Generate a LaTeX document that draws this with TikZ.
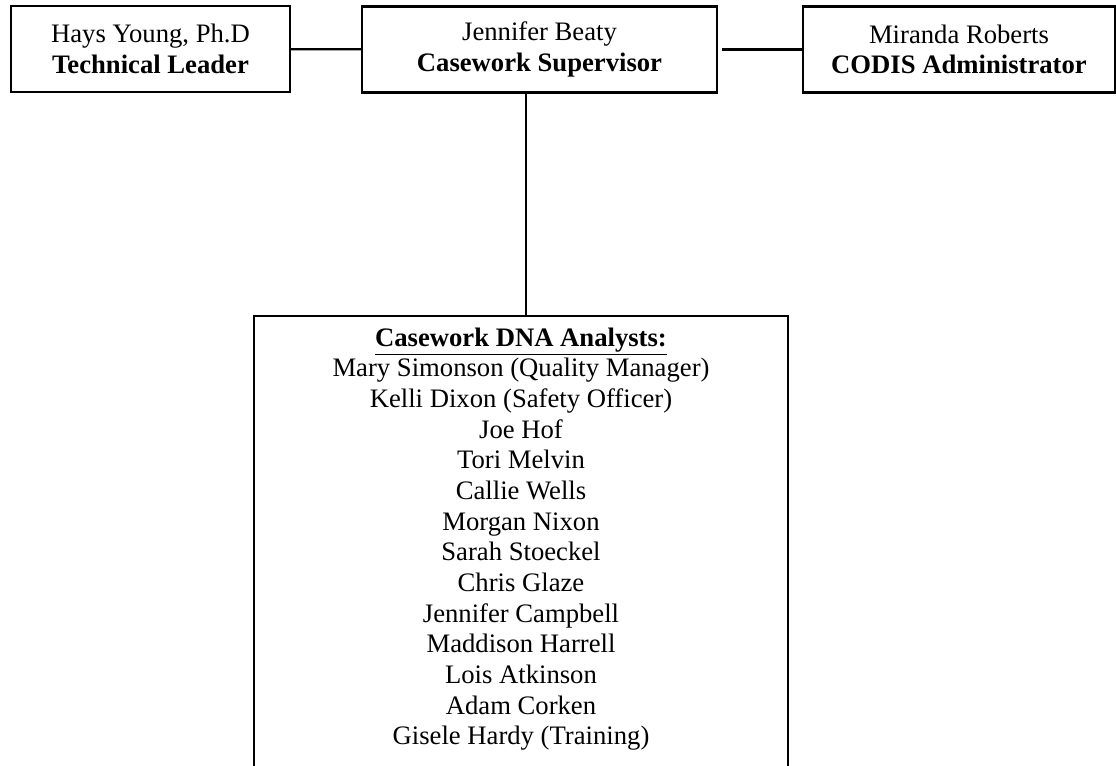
\documentclass[tikz,border=0pt]{standalone}
\usepackage{fontspec}
\setmainfont{Liberation Serif}
\usepackage{tikz}

\begin{document}
\begin{tikzpicture}[x=0.75pt,y=-0.75pt]
\useasboundingbox (0,0) rectangle (1116,765);
\begin{scope}[every node/.style={rectangle,draw,line width=1.6pt,inner sep=0pt,
              align=center,minimum height=64.5pt,font=\fontsize{20}{23}\selectfont}]
    \node[minimum width=209.25pt] (lead) at (150.5,49) {Hays Young, Ph.D\\\textbf{Technical Leader}};
    \node[minimum width=266.25pt] (sup) at (539.5,49.5) {Jennifer Beaty\\\textbf{Casework Supervisor}};
    \node[minimum width=234pt] (codis) at (959,49.5) {Miranda Roberts\\\textbf{CODIS Administrator}};
    \node[minimum width=400.5pt,inner ysep=8.8pt,anchor=north] (staff) at (521,315) {%
        \underline{\textbf{Casework DNA Analysts:}}\\
        Mary Simonson (Quality Manager)\\
        Kelli Dixon (Safety Officer)\\
        Joe Hof\\
        Tori Melvin\\
        Callie Wells\\
        Morgan Nixon\\
        Sarah Stoeckel\\
        Chris Glaze\\
        Jennifer Campbell\\
        Maddison Harrell\\
        Lois Atkinson\\
        Adam Corken\\
        Gisele Hardy (Training)\rule[-24pt]{0pt}{24pt}};
\end{scope}
\coordinate (drop) at (526,0);

\begin{scope}[every edge/.style={draw=black,line width=1.6pt}]
    \path (lead) edge (sup);
    \path (sup) edge[shorten <=3pt] (codis);
    \path (sup.south -| drop) edge (staff.north -| drop);
\end{scope}
\end{tikzpicture}
\end{document}
